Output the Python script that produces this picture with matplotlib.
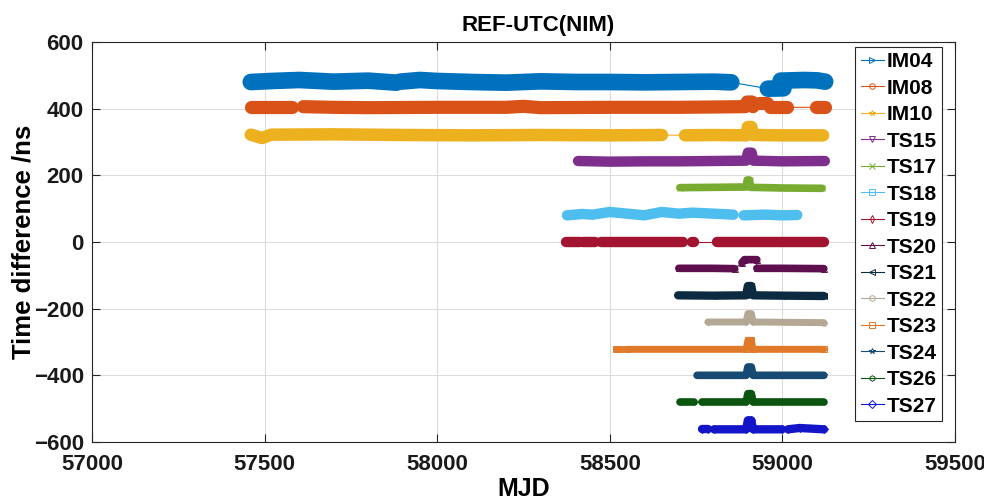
import matplotlib
matplotlib.use("Agg")
import matplotlib.pyplot as plt

plt.rcParams['font.family'] = ['Liberation Sans', 'DejaVu Sans']

# ---- data: each series is a list of measured segments of (MJD, ns) points ----
names = ["IM04", "IM08", "IM10", "TS15", "TS17", "TS18", "TS19",
         "TS20", "TS21", "TS22", "TS23", "TS24", "TS26", "TS27"]

IM04 = [[(57460, 480), (57520, 483), (57600, 486), (57700, 481), (57800, 484), (57882, 478)],
        [(57893, 481), (57950, 486), (58000, 483), (58100, 480), (58200, 478), (58300, 482),
         (58400, 480), (58500, 480), (58600, 479), (58700, 480), (58800, 481), (58852, 479)],
        [(58958, 460), (59003, 461)],
        [(58995, 484), (59060, 486), (59100, 485), (59124, 481)]]
IM08 = [[(57460, 405), (57580, 405)],
        [(57612, 406), (57700, 404), (57800, 403), (58000, 404), (58200, 404), (58250, 407),
         (58300, 403), (58500, 404), (58700, 404), (58893, 406), (58898, 420), (58912, 420), (58915, 406)],
        [(58932, 417), (58956, 417)],
        [(58965, 404), (59014, 404)],
        [(59097, 404), (59124, 404)]]
IM10 = [[(57460, 322), (57492, 312), (57520, 322), (57700, 323), (57900, 321), (58100, 320),
         (58300, 321), (58500, 320), (58651, 321)],
        [(58718, 320), (58800, 321), (58895, 320), (58900, 345), (58910, 345), (58915, 321),
         (59000, 320), (59118, 320)]]
TS15 = [[(58408, 243), (58500, 241), (58600, 242), (58700, 242), (58895, 244), (58900, 268),
         (58911, 268), (58916, 244), (59000, 242), (59123, 243)]]
TS17 = [[(58703, 163), (58800, 164), (58895, 165), (58898, 186), (58905, 186), (58908, 164),
         (59000, 162), (59115, 161)]]
TS18 = [[(58376, 80), (58420, 84), (58450, 82), (58500, 90), (58550, 85), (58600, 80),
         (58650, 90), (58700, 85), (58740, 88), (58800, 85), (58858, 82)],
        [(58888, 80), (58950, 82), (59000, 80), (59043, 81)]]
TS19 = [[(58373, 0), (58413, 0)],
        [(58423, 0), (58456, 0)],
        [(58474, 0), (58600, 0), (58712, 0)],
        [(58739, 0), (58744, 0)],
        [(58811, 0), (59000, 0), (59120, 0)]]
TS20 = [[(58700, -79), (58800, -79), (58862, -80)],
        [(58883, -62), (58890, -53), (58926, -53)],
        [(58926, -79), (59000, -79), (59120, -80)]]
TS21 = [[(58698, -160), (58800, -161), (58895, -160), (58900, -132), (58910, -132),
         (58915, -160), (59000, -161), (59120, -162)]]
TS22 = [[(58784, -240), (58895, -240), (58900, -215), (58910, -215), (58915, -240), (59120, -242)]]
TS23 = [[(58518, -320), (58530, -320)],
        [(58550, -322), (58895, -322), (58900, -295), (58910, -295), (58915, -322), (59120, -322)]]
TS24 = [[(58753, -400), (58895, -400), (58900, -375), (58910, -375), (58915, -400), (59120, -400)]]
TS26 = [[(58703, -480), (58745, -480)],
        [(58767, -480), (58895, -480), (58900, -455), (58910, -455), (58915, -480), (59120, -480)]]
TS27 = [[(58767, -561), (58784, -561)],
        [(58802, -562), (58895, -562), (58900, -535), (58910, -535), (58915, -562), (58999, -562)],
        [(59016, -562), (59050, -558), (59120, -562)]]

series = [IM04, IM08, IM10, TS15, TS17, TS18, TS19, TS20, TS21, TS22, TS23, TS24, TS26, TS27]

xticks = [57000, 57500, 58000, 58500, 59000, 59500]
yticks = [-600, -400, -200, 0, 200, 400, 600]

# ---- styles ----
colors = ['#0072BD', '#D95319', '#EDB120', '#7E2F8E', '#77AC30', '#4DBEEE', '#A2142F',
          '#5E0F4E', '#0D2B40', '#B4A794', '#E07A2A', '#174A72', '#0B5510', '#1414C8']
markers = ['>', 'o', '*', 'v', 'x', 's', 'd', '^', '<', 'o', 's', '*', 'h', 'D']
widths = [12, 9.5, 9, 7.5, 5.5, 7.5, 7.5, 5.5, 6, 5, 5, 5.5, 5.5, 6]

fig = plt.figure(figsize=(9.84, 5.03), dpi=100)
ax = fig.add_axes([0.0935, 0.1213, 0.877, 0.7952])

for name, segs, c, m, w in zip(names, series, colors, markers, widths):
    xs = [p[0] for s in segs for p in s]
    ys = [p[1] for s in segs for p in s]
    ax.plot(xs, ys, color=c, lw=0.8, marker=m, ms=4, mfc='none', mew=0.7,
            label=name, zorder=2)
    for s in segs:
        ax.plot([p[0] for p in s], [p[1] for p in s], color=c, lw=w,
                solid_capstyle='round', solid_joinstyle='round', zorder=3)

ax.set_xlim(57000, 59500)
ax.set_ylim(-600, 600)
ax.set_xticks(xticks)
ax.set_yticks(yticks)
ax.grid(True, color='#dcdcdc', lw=0.8)
ax.set_axisbelow(True)
ax.tick_params(direction='in', length=6, width=0.8, colors='#262626',
               labelsize=16, top=True, right=True)
ax.tick_params(axis='x', pad=9)
ax.tick_params(axis='y', pad=6)
for lab in ax.get_xticklabels() + ax.get_yticklabels():
    lab.set_fontweight('bold')
    lab.set_color('#1a1a1a')
for sp in ax.spines.values():
    sp.set_color('#262626')
    sp.set_linewidth(0.8)

ax.set_title('REF-UTC(NIM)', fontsize=16, fontweight='bold', pad=8, x=0.517)
ax.set_ylabel('Time difference /ns', fontsize=18.5, fontweight='bold')
ax.yaxis.set_label_coords(-0.066, 0.5)
ax.set_xlabel('MJD', fontsize=18, fontweight='bold', va='bottom')
ax.xaxis.set_label_coords(0.5, -0.1475)

leg = ax.legend(loc='upper right', bbox_to_anchor=(0.985, 0.988), prop={'weight': 'bold', 'size': 15},
                frameon=True, fancybox=False, edgecolor='#262626', framealpha=1,
                handlelength=1.1, handletextpad=0.15, labelspacing=0.36,
                borderpad=0.25, borderaxespad=0)
leg.get_frame().set_linewidth(0.8)

fig.savefig('out.png', dpi=100, facecolor='white')
